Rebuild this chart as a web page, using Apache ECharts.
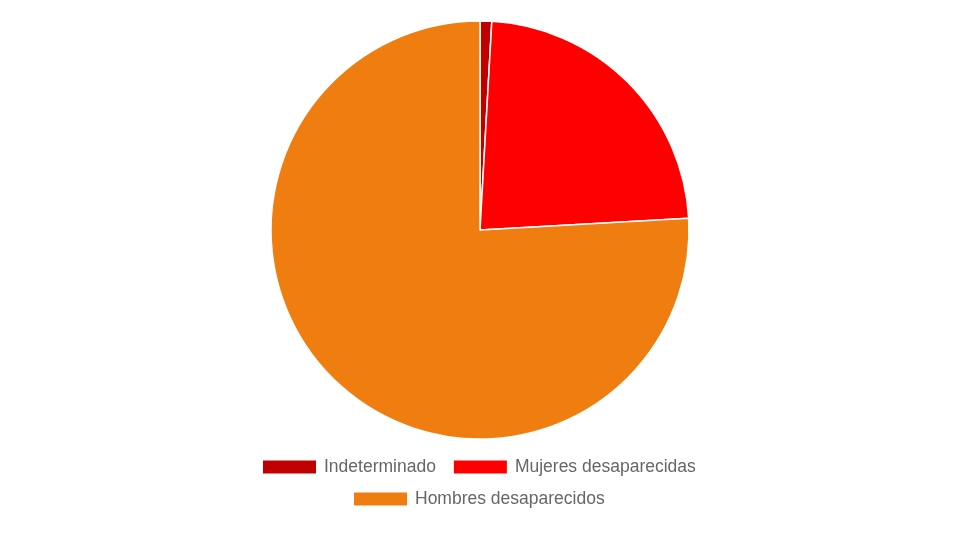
<!DOCTYPE html>
<html>
<head>
<meta charset="utf-8">
<script src="https://cdn.jsdelivr.net/npm/echarts@6/dist/echarts.min.js"></script>
<style>
  html, body { margin: 0; padding: 0; background: #fff; }
  #main { width: 960px; height: 539px; }
</style>
</head>
<body>
<div id="main"></div>
<script>
// categories and shares (percent)
var categories = ['Indeterminado', 'Mujeres desaparecidas', 'Hombres desaparecidos'];
var values = [0.9, 23.2, 75.9];
var colors = ['#c00000', '#ff0000', '#f07d0f'];

var pieData = [];
for (var i = 0; i < categories.length; i++) {
    pieData.push({ name: categories[i], value: values[i] });
}

var legendText = {
    color: '#666',
    fontSize: 17.5,
    fontFamily: 'Liberation Sans, Arial, sans-serif',
    padding: [0, 0, 0, 2]
};

var option = {
    animation: false,
    color: colors,
    legend: [
        {
            data: [categories[0], categories[1]],
            left: 256,
            top: 453,
            itemWidth: 55,
            itemHeight: 15,
            itemGap: 16,
            icon: 'rect',
            textStyle: legendText
        },
        {
            data: [categories[2]],
            left: 347,
            top: 485,
            itemWidth: 55,
            itemHeight: 15,
            icon: 'rect',
            textStyle: legendText
        }
    ],
    series: [
        {
            type: 'pie',
            center: [480, 230],
            radius: 209,
            startAngle: 90,
            clockwise: true,
            label: { show: false },
            labelLine: { show: false },
            itemStyle: { borderColor: '#fff', borderWidth: 1.5 },
            data: pieData
        }
    ]
};

var chart = echarts.init(document.getElementById('main'));
chart.setOption(option);
</script>
</body>
</html>
